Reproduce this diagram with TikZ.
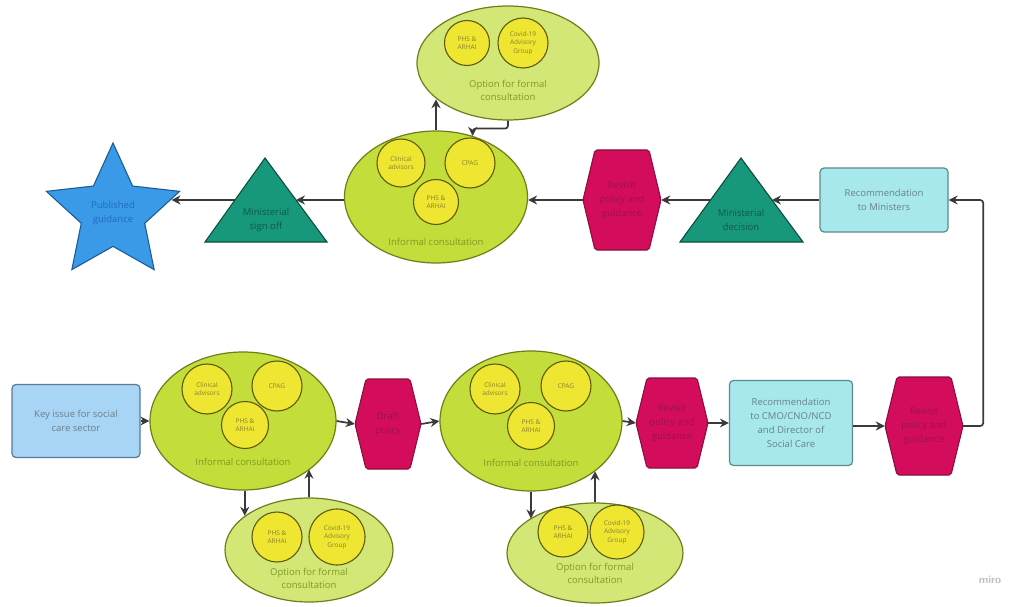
\documentclass[tikz,border=0pt]{standalone}
\usepackage{fontspec}
\setmainfont{Open Sans}
\usetikzlibrary{shapes.geometric,arrows.meta,calc}
\definecolor{lime}{HTML}{C3DD3A}
\definecolor{limeB}{HTML}{6E7E1A}
\definecolor{limeL}{HTML}{D3E776}
\definecolor{limeT}{HTML}{7F9A24}
\definecolor{yel}{HTML}{EEE630}
\definecolor{yelB}{HTML}{5E5A12}
\definecolor{yelT}{HTML}{8A8030}
\definecolor{hexF}{HTML}{D40C5C}
\definecolor{hexB}{HTML}{8C0E3E}
\definecolor{hexT}{HTML}{9A1448}
\definecolor{triF}{HTML}{17987A}
\definecolor{triB}{HTML}{0E4E3E}
\definecolor{triT}{HTML}{0D5A48}
\definecolor{cyanF}{HTML}{A6E8EC}
\definecolor{cyanB}{HTML}{5E8A8C}
\definecolor{boxT}{HTML}{6A8088}
\definecolor{keyF}{HTML}{A8D4F6}
\definecolor{keyB}{HTML}{5C7A90}
\definecolor{starF}{HTML}{3A9AE8}
\definecolor{starB}{HTML}{1C5C96}
\definecolor{starT}{HTML}{1E6CC0}
\definecolor{lineC}{HTML}{3A3A3A}
\tikzset{
  arr/.style={draw=lineC, line width=1.7pt, -{Stealth[length=9pt,width=9pt]}, rounded corners=3pt},
  bigell/.style={ellipse, draw=limeB, fill=lime, line width=1.2pt, inner sep=0pt},
  formell/.style={ellipse, draw=limeB, fill=limeL, line width=1.2pt, inner sep=0pt},
  smallc/.style={circle, draw=yelB, fill=yel, line width=1.1pt, inner sep=0pt, align=center,
     text=yelT, font=\fontsize{6.5}{8.5}\selectfont},
  elltxt/.style={text=limeT, font=\fontsize{9.5}{13}\selectfont, align=center},
  hexnode/.style={draw=none, inner sep=0pt, align=center, text=hexT, font=\fontsize{9.5}{14}\selectfont},
  hexpath/.style={draw=hexB, fill=hexF, line width=1.1pt, rounded corners=2pt},
  tripath/.style={draw=triB, fill=triF, line width=1.1pt},
  tritxt/.style={text=triT, font=\fontsize{9.5}{14}\selectfont, align=center},
  cbox/.style={draw=cyanB, fill=cyanF, line width=1.2pt, rounded corners=4pt, align=center,
     text=boxT, font=\fontsize{9.5}{14}\selectfont, inner sep=2pt},
}
\newcommand\myhex[7]{%
  \draw[hexpath] ({#2-#4/2},#3) -- ({#2-#4/2+#6},{#3-#5/2}) -- ({#2+#4/2-#6},{#3-#5/2})
     -- ({#2+#4/2},#3) -- ({#2+#4/2-#6},{#3+#5/2}) -- ({#2-#4/2+#6},{#3+#5/2}) -- cycle;
  \node[hexnode, minimum width=#4pt, minimum height=#5pt] (#1) at (#2,#3) {#7};}
\begin{document}
\begin{tikzpicture}[x=1pt,y=-1pt]
\useasboundingbox[fill=white] (0,0) rectangle (1010,607);

% ---------- bottom row ----------
\node[draw=keyB, fill=keyF, line width=1.2pt, rounded corners=4pt, minimum width=128pt,
  minimum height=73pt, align=center, text=boxT, font=\fontsize{9.5}{14}\selectfont] (key) at (76,421)
  {Key issue for social\\care sector};

\node[bigell, minimum width=186pt, minimum height=138pt] (inf1) at (243,421) {};
\node[smallc, minimum size=50pt] (i1a) at (207,389) {Clinical\\advisors};
\node[smallc, minimum size=50pt] (i1b) at (277,386) {CPAG};
\node[smallc, minimum size=47pt] (i1c) at (245,425) {PHS \&\\ARHAI};
\node[elltxt] (i1t) at (243,462) {Informal consultation};

\myhex{draft}{388}{424}{66}{90}{11}{Draft\\policy}

\node[bigell, minimum width=182pt, minimum height=140pt] (inf2) at (531,421) {};
\node[smallc, minimum size=50pt] (i2a) at (495,389) {Clinical\\advisors};
\node[smallc, minimum size=50pt] (i2b) at (566,386) {CPAG};
\node[smallc, minimum size=47pt] (i2c) at (531,426) {PHS \&\\ARHAI};
\node[elltxt] (i2t) at (531,463) {Informal consultation};

\myhex{rev2}{672}{423}{72}{90}{11}{Revisit\\policy and\\guidance}

\node[cbox, minimum width=123pt, minimum height=85pt] (cmo) at (791,423)
  {Recommendation\\to CMO/CNO/NCD\\and Director of\\Social Care};

\myhex{rev3}{924}{426}{78}{98}{12}{Revisit\\policy and\\guidance}

% bottom formal consultations
\node[formell, minimum width=168pt, minimum height=104pt] (fb1) at (309,550) {};
\node[smallc, minimum size=50pt] (fb1a) at (277,537) {PHS \&\\ARHAI};
\node[smallc, minimum size=56pt] (fb1b) at (337,537) {Covid-19\\Advisory\\Group};
\node[elltxt] (fb1t) at (309,578) {Option for formal\\consultation};

\node[formell, minimum width=176pt, minimum height=100pt] (fb2) at (595,553) {};
\node[smallc, minimum size=50pt] (fb2a) at (563,532) {PHS \&\\ARHAI};
\node[smallc, minimum size=54pt] (fb2b) at (617,532) {Covid-19\\Advisory\\Group};
\node[elltxt] (fb2t) at (595,573) {Option for formal\\consultation};

% ---------- top row ----------
\node[cbox, minimum width=128pt, minimum height=64pt] (mins) at (884,200)
  {Recommendation\\to Ministers};

\draw[tripath] (741,158) -- (803,242) -- (680,242) -- cycle;
\node[tritxt] (dec) at (741,220) {Ministerial\\decision};
\coordinate (decR) at (772,200);
\coordinate (decL) at (710,200);

\myhex{revT}{622}{200}{78}{100}{12}{Revisit\\policy and\\guidance}

\node[bigell, minimum width=183pt, minimum height=132pt] (infT) at (436,197) {};
\node[smallc, minimum size=48pt] (iTa) at (401,163) {Clinical\\advisors};
\node[smallc, minimum size=50pt] (iTb) at (470,163) {CPAG};
\node[smallc, minimum size=45pt] (iTc) at (436,202) {PHS \&\\ARHAI};
\node[elltxt] (iTt) at (436,242) {Informal consultation};

\node[formell, minimum width=182pt, minimum height=114pt] (fT) at (508,63) {};
\node[smallc, minimum size=45pt] (fTa) at (467,43) {PHS \&\\ARHAI};
\node[smallc, minimum size=50pt] (fTb) at (523,43) {Covid-19\\Advisory\\Group};
\node[elltxt] (fTt) at (508,90) {Option for formal\\consultation};

\draw[tripath] (265,158) -- (327,242) -- (205,242) -- cycle;
\node[tritxt] (sign) at (266,220) {Ministerial\\sign off};
\coordinate (signR) at (296,200);
\coordinate (signL) at (235,200);

\node[star, star points=5, star point ratio=2.1, minimum size=140pt, inner sep=0pt,
  draw=starB, fill=starF, line width=1.1pt, align=center, text=starT,
  font=\fontsize{9.5}{14}\selectfont] (pub) at (113,213) {Published\\guidance};

\node[text=black!25, font=\sffamily\bfseries\fontsize{11}{13}\selectfont] (miro) at (990,580) {miro};

% ---------- connectors ----------
\draw[arr] (key.east) -- (inf1.west);
\draw[arr] (inf1.east) -- (draft.west);
\draw[arr] (draft.east) -- (inf2.west);
\draw[arr] (inf2.east) -- (rev2.west);
\draw[arr] (rev2.east) -- (rev2.east -| cmo.west);
\draw[arr] (cmo.east |- rev3.west) -- (rev3.west);
\draw[arr] (rev3.east) -- ++(20,0) |- (mins.east);
\draw[arr] (mins.west) -- (decR);
\draw[arr] (decL) -- (revT.east);
\draw[arr] (revT.west) -- (revT.west -| infT.east);
\draw[arr] (infT.west |- signR) -- (signR);
\draw[arr] (signL) -- (signL -| pub.13);

\draw[arr] (fb1.152 |- inf1.south) -- (fb1.152);
\draw[arr] (fb1.north) -- (fb1.north |- inf1.324);
\draw[arr] (inf2.south) -- (inf2.south |- fb2.152);
\draw[arr] (fb2.north) -- (fb2.north |- inf2.322);

\draw[arr] (infT.north) -- (infT.north |- fT.207);
\draw[arr] (fT.south) -- ++(0,8) -| (infT.59);
\end{tikzpicture}
\end{document}
